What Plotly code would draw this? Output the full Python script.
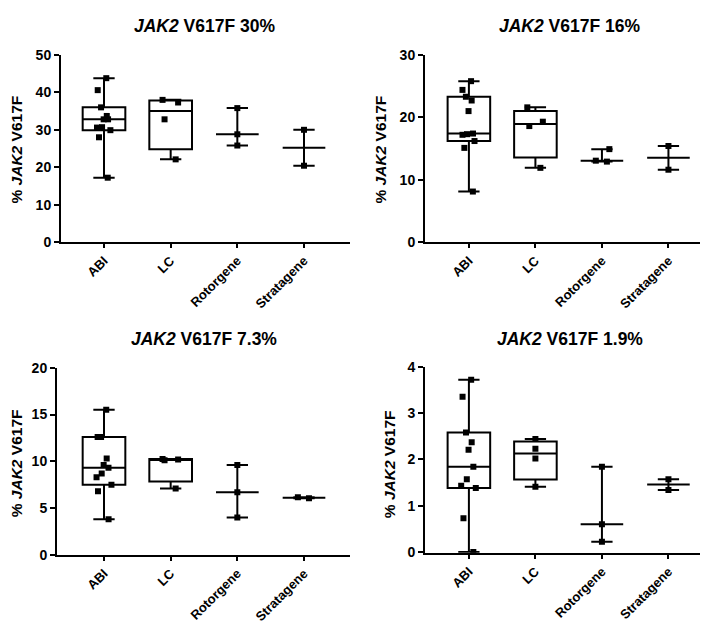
import numpy as np
import plotly.graph_objects as go

categories = ["ABI", "LC", "Rotorgene", "Stratagene"]
titles = ["30%", "16%", "7.3%", "1.9%"]

p30_abi = [43.8, 40.6, 36.0, 33.7, 32.8, 32.8, 30.6, 30.7, 29.9, 28.0, 17.2]
p30_lc = [38.0, 37.3, 32.8, 22.1]
p30_rot = [35.8, 28.8, 25.8]
p30_str = [30.0, 20.4]

p16_abi = [25.8, 24.4, 23.3, 22.7, 21.0, 17.4, 17.2, 17.3, 16.2, 15.1, 8.1]
p16_lc = [21.6, 19.3, 18.6, 11.9]
p16_rot = [14.9, 12.9, 13.05]
p16_str = [15.4, 11.6]

p7_abi = [15.5, 12.6, 12.6, 10.3, 9.6, 9.3, 8.7, 8.3, 7.5, 6.8, 3.8]
p7_lc = [10.2, 10.1, 10.25, 7.1]
p7_rot = [9.6, 6.7, 4.0]
p7_str = [6.05, 6.15]

p1_abi = [3.72, 3.35, 2.58, 2.37, 2.21, 1.84, 1.57, 1.43, 1.38, 0.73, 0.0]
p1_lc = [2.44, 2.23, 2.02, 1.41]
p1_rot = [1.84, 0.60, 0.22]
p1_str = [1.57, 1.34]

panels = [
    [p30_abi, p30_lc, p30_rot, p30_str],
    [p16_abi, p16_lc, p16_rot, p16_str],
    [p7_abi, p7_lc, p7_rot, p7_str],
    [p1_abi, p1_lc, p1_rot, p1_str],
]
y_ranges = [[0, 50], [0, 30], [0, 20], [-0.02, 4]]
y_dticks = [10, 10, 5, 1]

FONT = "Arial, Liberation Sans, sans-serif"
W, H = 708, 624
# plot areas in pixels: (x0, x1, ytop, ybottom)
areas = [(53, 342, 40, 232), (417, 707, 40, 232), (49, 342, 361, 553), (417, 707, 360, 551)]
x_ranges = [[-0.645, 3.69], [-0.66, 3.70], [-0.705, 3.69], [-0.66, 3.70]]
title_pos = [(197, 10), (562, 10), (196, 331), (562, 331)]
ytitle_pos = [(8, 137), (372, 137), (8, 459), (381, 460)]

fig = go.Figure()
BW = 0.64

for i, groups in enumerate(panels):
    ax = "" if i == 0 else str(i + 1)
    span = y_ranges[i][1] - y_ranges[i][0]
    for cat, vals in zip(categories, groups):
        v = np.array(vals, dtype=float)
        med = float(np.median(v))
        if len(v) >= 4:
            q1 = float(np.quantile(v, 0.25, method="weibull"))
            q3 = float(np.quantile(v, 0.75, method="weibull"))
        else:
            q1 = q3 = med
        fig.add_trace(go.Box(
            x=[cat], q1=[q1], median=[med], q3=[q3],
            lowerfence=[float(v.min())], upperfence=[float(v.max())],
            width=BW, whiskerwidth=0.5,
            line=dict(color="black", width=2), fillcolor="rgba(0,0,0,0)",
            boxpoints=False, showlegend=False, hoverinfo="skip",
            xaxis="x" + ax, yaxis="y" + ax,
        ))
        # spread points sideways only where markers would overlap
        gaps = np.diff(np.sort(v))
        overlap = gaps.size > 0 and gaps.min() < 0.035 * span
        fig.add_trace(go.Box(
            x=[cat] * len(vals), y=vals,
            width=BW, boxpoints="all", jitter=0.45 if overlap else 0.0, pointpos=0,
            line=dict(color="rgba(0,0,0,0)", width=0), fillcolor="rgba(0,0,0,0)",
            marker=dict(symbol="square", size=6, color="black"),
            showlegend=False, xaxis="x" + ax, yaxis="y" + ax,
        ))

layout = dict(
    width=W, height=H, margin=dict(l=0, r=0, t=0, b=0),
    paper_bgcolor="white", plot_bgcolor="white",
    boxmode="overlay", showlegend=False,
    font=dict(family=FONT, color="black"),
)
annotations = []
for i in range(4):
    x0, x1, yt, yb = areas[i]
    sx = "" if i == 0 else str(i + 1)
    layout["xaxis" + sx] = dict(
        domain=[x0 / W, x1 / W], range=x_ranges[i], anchor="y" + sx,
        type="category", categoryorder="array", categoryarray=categories,
        showline=True, linecolor="black", linewidth=2, showgrid=False, zeroline=False,
        ticks="outside", ticklen=4, tickwidth=2, tickcolor="black", tickangle=-45,
        tickfont=dict(family=FONT, size=13, color="black", weight="bold"),
    )
    layout["yaxis" + sx] = dict(
        domain=[1 - yb / H, 1 - yt / H], range=y_ranges[i], anchor="x" + sx,
        dtick=y_dticks[i], tick0=0,
        showline=True, linecolor="black", linewidth=2, showgrid=False, zeroline=False,
        ticks="outside", ticklen=5, tickwidth=2, tickcolor="black",
        tickfont=dict(family=FONT, size=14, color="black", weight="bold"),
    )
    tx, ty = title_pos[i]
    annotations.append(dict(
        text="<b><i>JAK2</i> V617F " + titles[i] + "</b>",
        x=tx / W, y=1 - ty / H, xref="paper", yref="paper",
        xanchor="center", yanchor="middle", showarrow=False,
        font=dict(family=FONT, size=17.5, color="black"),
    ))
    yx, yy = ytitle_pos[i]
    annotations.append(dict(
        text="<b>% <i>JAK2</i> V617F</b>",
        x=yx / W, y=1 - yy / H, xref="paper", yref="paper",
        xanchor="center", yanchor="middle", showarrow=False, textangle=-90,
        font=dict(family=FONT, size=15.5, color="black"),
    ))
layout["annotations"] = annotations
fig.update_layout(**layout)
fig.write_html("out.html")
